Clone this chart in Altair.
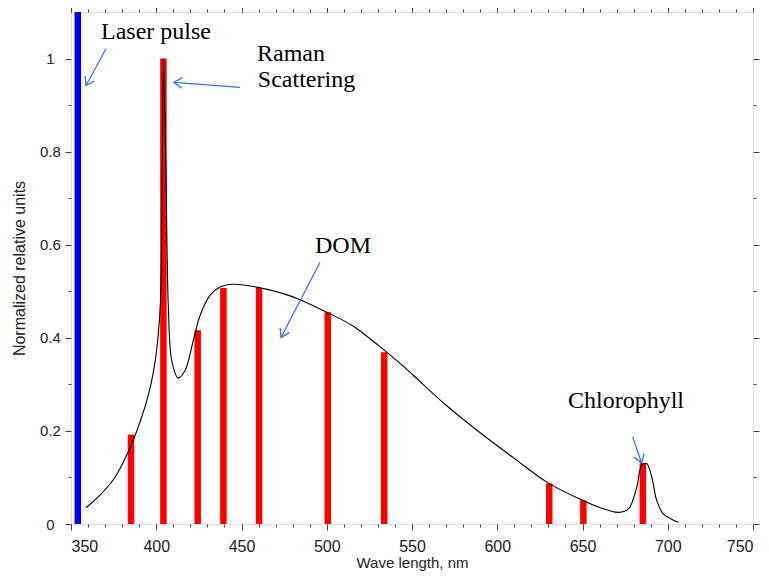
import math
import altair as alt
import pandas as pd

# ---- plot geometry (for arrowhead angles only) ----
W, H = 682, 512
X_DOMAIN = [350, 750]
Y_DOMAIN = [0, 1.1]

# ---- data ----
laser_x = [354]
laser_top = [1.1]

bar_x = [385.2, 404.2, 424.3, 439.4, 460.3, 500.6, 533.7, 630.5, 650.5, 685.4]
bar_y = [0.192, 1.0, 0.416, 0.507, 0.507, 0.455, 0.369, 0.087, 0.051, 0.131]

curve_x = [358.8, 367, 374.8, 380.7, 386.5, 391, 395, 398.5, 401, 402.5, 403.5, 404.3,
           405.7, 407.1, 409.1, 412.8, 416.9, 421.7, 425.7, 431.5, 437.4, 445.2, 458.9,
           474.5, 484.3, 500, 515.6, 531.2, 543, 550.9, 570.4, 590, 609.6, 629.1, 648.7,
           660.4, 671.2, 677.1, 681.8, 684.7, 687.6, 690.6, 693.5, 697.4, 706.2]
curve_y = [0.035, 0.062, 0.095, 0.133, 0.180, 0.225, 0.272, 0.33, 0.40, 0.48, 0.752, 1.0,
           0.753, 0.466, 0.351, 0.314, 0.330, 0.394, 0.448, 0.491, 0.509, 0.515, 0.509,
           0.495, 0.482, 0.455, 0.425, 0.381, 0.345, 0.319, 0.254, 0.196, 0.142, 0.090, 0.053,
           0.035, 0.025, 0.033, 0.079, 0.126, 0.130, 0.101, 0.051, 0.022, 0.004]

labels = ["Laser pulse", "Raman", "Scattering", "DOM", "Chlorophyll"]
label_x = [367.6, 459.1, 459.6, 493.1, 641.5]
label_y = [1.041, 0.995, 0.938, 0.583, 0.250]

arrow_x1 = [370.5, 449.1, 496.0, 679.4]
arrow_y1 = [1.021, 0.938, 0.562, 0.187]
arrow_x2 = [358.8, 410.4, 473.2, 684.7]
arrow_y2 = [0.942, 0.949, 0.401, 0.131]

x_major = [350, 400, 450, 500, 550, 600, 650, 700, 750]
x_minor = list(range(350, 751, 10))
y_major = [0, 0.2, 0.4, 0.6, 0.8, 1]
y_minor = [0.1, 0.3, 0.5, 0.7, 0.9]

# ---- tables ----
laser_df = pd.DataFrame({"x": laser_x, "top": laser_top})
bars_df = pd.DataFrame({"x": bar_x, "top": bar_y})
curve_df = pd.DataFrame({"x": curve_x, "y": curve_y})
label_df = pd.DataFrame({"t": labels, "x": label_x, "y": label_y})

px_x = W / (X_DOMAIN[1] - X_DOMAIN[0])
px_y = H / (Y_DOMAIN[1] - Y_DOMAIN[0])
angles = []
for a, b, c, d in zip(arrow_x1, arrow_y1, arrow_x2, arrow_y2):
    dx = (c - a) * px_x
    dy = -(d - b) * px_y
    angles.append(math.degrees(math.atan2(dy, dx)) % 360)
arrow_df = pd.DataFrame({"x1": arrow_x1, "y1": arrow_y1, "x2": arrow_x2,
                         "y2": arrow_y2, "ang": angles})

xs = alt.Scale(domain=X_DOMAIN, nice=False, zero=False)
ys = alt.Scale(domain=Y_DOMAIN, nice=False, zero=False)

AX_FONT = "Liberation Sans"
AX_COLOR = "#444444"
TXT = "#222222"


def axis_layer(xaxis, yaxis):
    return alt.Chart(curve_df).mark_point(opacity=0).encode(
        x=alt.X("x:Q", scale=xs, axis=xaxis),
        y=alt.Y("y:Q", scale=ys, axis=yaxis),
    )


common = dict(domain=False, grid=False, tickColor=AX_COLOR, tickWidth=1)

ax_main = axis_layer(
    alt.Axis(orient="bottom", values=x_major, tickSize=6, labelFont=AX_FONT,
             labelFontSize=16, labelColor=TXT, labelPadding=8,
             title="Wave length, nm", titleFont=AX_FONT, titleFontSize=15,
             titleFontWeight="normal", titleColor=TXT, titlePadding=1,
             **common),
    alt.Axis(orient="left", values=y_major, format="~g", tickSize=6,
             labelFont=AX_FONT, labelFontSize=15, labelColor=TXT,
             labelAlign="center", labelPadding=15,
             title="Normalized relative units", titleFont=AX_FONT,
             titleFontSize=16, titleFontWeight="normal", titleColor=TXT,
             titlePadding=12, **common),
)
ax_minor = axis_layer(
    alt.Axis(orient="bottom", values=x_minor, tickSize=3, labels=False, title=None, **common),
    alt.Axis(orient="left", values=y_minor, tickSize=3, labels=False, title=None, **common),
)
ax_top = axis_layer(
    alt.Axis(orient="top", values=x_major, tickSize=6, labels=False, title=None, **common),
    alt.Axis(orient="right", values=y_major, tickSize=6, labels=False, title=None, **common),
)
ax_top_minor = axis_layer(
    alt.Axis(orient="top", values=x_minor, tickSize=3, labels=False, title=None, **common),
    alt.Axis(orient="right", values=y_minor, tickSize=3, labels=False, title=None, **common),
)

laser = alt.Chart(laser_df).mark_rule(color="#0000ff", strokeWidth=6.5).encode(
    x=alt.X("x:Q", scale=xs, axis=None),
    y=alt.Y("top:Q", scale=ys, axis=None),
    y2=alt.datum(0),
)

bars = alt.Chart(bars_df).mark_rule(color="#ff0000", strokeWidth=6.5).encode(
    x=alt.X("x:Q", scale=xs, axis=None),
    y=alt.Y("top:Q", scale=ys, axis=None),
    y2=alt.datum(0),
)

curve = alt.Chart(curve_df).mark_line(color="black", strokeWidth=1.1,
                                      interpolate="catmull-rom").encode(
    x=alt.X("x:Q", scale=xs, axis=None),
    y=alt.Y("y:Q", scale=ys, axis=None),
)

texts = alt.Chart(label_df).mark_text(font="Liberation Serif", fontSize=24,
                                      align="left", baseline="alphabetic",
                                      color="black").encode(
    x=alt.X("x:Q", scale=xs, axis=None),
    y=alt.Y("y:Q", scale=ys, axis=None),
    text="t:N",
)

ARROW = "#3d6ef2"
shafts = alt.Chart(arrow_df).mark_rule(color=ARROW, strokeWidth=1.2).encode(
    x=alt.X("x1:Q", scale=xs, axis=None),
    y=alt.Y("y1:Q", scale=ys, axis=None),
    x2="x2:Q",
    y2="y2:Q",
)
heads = alt.Chart(arrow_df).mark_point(shape="M -1 -0.65 L 0 0 L -1 0.65", filled=False,
                                       size=260, strokeWidth=1.3, color=ARROW,
                                       opacity=1).encode(
    x=alt.X("x2:Q", scale=xs, axis=None),
    y=alt.Y("y2:Q", scale=ys, axis=None),
    angle=alt.Angle("ang:Q", scale=None),
)

chart = alt.layer(
    ax_main, ax_minor, ax_top, ax_top_minor,
    laser, bars, curve, shafts, heads, texts,
).resolve_axis(x="independent", y="independent").properties(
    width=W, height=H,
    autosize=alt.AutoSizeParams(type="none"),
    padding={"left": 63, "top": 4, "right": 8, "bottom": 48},
).configure_view(stroke="#555555", strokeWidth=1.5).configure(background="white")

chart.save("out.html", embed_options={"renderer": "svg", "actions": False})
